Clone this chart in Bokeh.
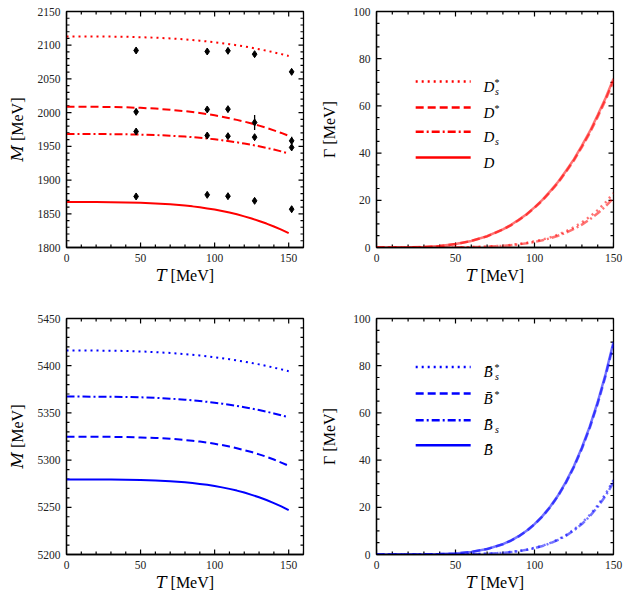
from bokeh.plotting import figure
from bokeh.layouts import column, row
from bokeh.models import Range1d, SingleIntervalTicker, LinearAxis, Label
from bokeh.embed import file_html
from bokeh.resources import INLINE

# ---------------------------------------------------------------------------
# Data: temperature grid (MeV) and thermal masses / widths of heavy mesons
# ---------------------------------------------------------------------------
T = [0, 10, 20, 30, 40, 50, 60, 70, 80, 85, 90, 95, 100, 105, 110, 115,
     120, 125, 130, 135, 140, 145, 150]

# charm sector masses M(T) [MeV]
M_Dss = [2113.0, 2113.0, 2112.9, 2112.8, 2112.5, 2111.9, 2111.1, 2110.1, 2108.6,
         2107.7, 2106.7, 2105.6, 2104.4, 2103.1, 2101.6, 2099.9, 2098.2, 2096.2,
         2094.1, 2091.9, 2089.4, 2086.8, 2084.0]
M_Dst = [2008.7, 2008.7, 2008.6, 2008.4, 2007.9, 2007.1, 2006.0, 2004.3, 2002.2,
         2000.9, 1999.4, 1997.8, 1996.0, 1994.0, 1991.7, 1989.3, 1986.7, 1983.8,
         1980.7, 1977.4, 1973.7, 1969.9, 1965.7]
M_Ds = [1968.3, 1968.3, 1968.3, 1968.1, 1967.9, 1967.4, 1966.8, 1965.8, 1964.5,
        1963.6, 1962.7, 1961.6, 1960.4, 1959.1, 1957.6, 1956.0, 1954.2, 1952.2,
        1950.1, 1947.7, 1945.2, 1942.5, 1939.5]
M_D = [1867.3, 1867.3, 1867.3, 1867.1, 1866.9, 1866.3, 1865.4, 1864.1, 1862.2,
       1861.0, 1859.6, 1858.0, 1856.2, 1854.1, 1851.8, 1849.2, 1846.2, 1843.0,
       1839.4, 1835.5, 1831.2, 1826.5, 1821.3]

# lattice QCD points for the charm sector
lat_T = [47, 95, 109, 127, 152]
lat_Dss = [2092.2, 2090.7, 2091.7, 2086.7, 2060.5]
lat_Dss_err = [3.0, 3.0, 3.0, 3.0, 4.0]
lat_Dst = [2001.2, 2004.7, 2005.2, 1985.4, 1958.2]
lat_Dst_err = [3.0, 3.0, 3.0, 11.0, 6.0]
lat_Ds = [1972.0, 1966.1, 1965.1, 1963.6, 1948.4]
lat_Ds_err = [3.0, 3.0, 2.5, 2.5, 4.0]
lat_D = [1875.7, 1878.1, 1876.1, 1869.2, 1856.8]
lat_D_err = [2.5, 2.5, 2.5, 3.0, 4.5]

# charm sector widths Gamma(T) [MeV]
G_D = [0.0, 0.005, 0.06, 0.24, 0.66, 1.46, 2.79, 4.79, 7.72, 9.52, 11.73, 14.13,
       17.02, 20.16, 23.88, 27.84, 32.53, 37.43, 43.19, 49.18, 56.13, 63.39, 71.5]
G_Dst = [0.0, 0.005, 0.06, 0.23, 0.65, 1.44, 2.75, 4.72, 7.61, 9.38, 11.56, 13.93,
         16.78, 19.87, 23.55, 27.45, 32.08, 36.91, 42.58, 48.49, 55.34, 62.51, 70.5]
G_Ds = [0.0, 0.0, 0.0, 0.004, 0.017, 0.056, 0.149, 0.344, 0.708, 0.98, 1.33, 1.78,
        2.35, 3.06, 3.93, 5.0, 6.3, 7.85, 9.7, 11.89, 14.47, 17.49, 21.0]
G_Dss = [0.0, 0.0, 0.0, 0.004, 0.018, 0.061, 0.163, 0.377, 0.775, 1.07, 1.45, 1.95,
         2.58, 3.35, 4.30, 5.48, 6.9, 8.6, 10.63, 13.02, 15.85, 19.15, 23.0]

# bottom sector masses M(T) [MeV]
M_Bss = [5416.1, 5416.1, 5416.0, 5415.9, 5415.6, 5415.1, 5414.4, 5413.5, 5412.3,
         5411.6, 5410.8, 5410.0, 5409.0, 5408.0, 5406.9, 5405.6, 5404.3, 5402.9,
         5401.4, 5399.7, 5398.0, 5396.1, 5394.1]
M_Bs = [5367.3, 5367.3, 5367.2, 5367.1, 5366.9, 5366.5, 5365.9, 5365.1, 5364.0,
        5363.3, 5362.6, 5361.7, 5360.8, 5359.8, 5358.6, 5357.4, 5356.0, 5354.6,
        5353.0, 5351.3, 5349.4, 5347.4, 5345.3]
M_Bst = [5324.7, 5324.7, 5324.7, 5324.6, 5324.4, 5324.0, 5323.5, 5322.6, 5321.3,
         5320.5, 5319.6, 5318.5, 5317.3, 5315.9, 5314.3, 5312.6, 5310.6, 5308.5,
         5306.1, 5303.5, 5300.6, 5297.4, 5294.0]
M_B = [5279.5, 5279.5, 5279.5, 5279.4, 5279.3, 5279.0, 5278.5, 5277.7, 5276.5,
       5275.7, 5274.8, 5273.8, 5272.5, 5271.1, 5269.5, 5267.7, 5265.6, 5263.2,
       5260.6, 5257.7, 5254.5, 5250.9, 5247.0]

# bottom sector widths Gamma(T) [MeV]
G_B = [0.0, 0.0, 0.005, 0.04, 0.16, 0.46, 1.11, 2.31, 4.39, 5.90, 7.77, 10.04,
       12.88, 16.25, 20.32, 25.14, 30.87, 37.52, 45.32, 54.27, 64.62, 76.48, 90.0]
G_Bst = [0.0, 0.0, 0.005, 0.04, 0.16, 0.46, 1.10, 2.29, 4.34, 5.83, 7.68, 9.93,
         12.74, 16.06, 20.1, 24.86, 30.5, 37.1, 44.8, 53.67, 63.9, 75.63, 89.0]
G_Bs = [0.0, 0.0, 0.0, 0.002, 0.011, 0.042, 0.125, 0.317, 0.70, 1.01, 1.42, 1.97,
        2.68, 3.59, 4.76, 6.19, 7.99, 10.21, 12.93, 16.2, 20.16, 24.89, 30.5]
G_Bss = [0.0, 0.0, 0.0, 0.002, 0.011, 0.043, 0.129, 0.33, 0.73, 1.04, 1.46, 2.03,
         2.77, 3.70, 4.91, 6.40, 8.25, 10.55, 13.36, 16.74, 20.82, 25.7, 31.5]

# legend key placement (T span of key lines, Gamma level of each row)
key_T = [24.8, 59.6]
label_T = 67.8
key_rows_D = [70.3, 59.3, 49.0, 38.1]
key_rows_B = [79.5, 68.2, 56.9, 46.3]

FONT = "Liberation Serif, Times New Roman, DejaVu Serif, serif"
TICK_COLOR = "#222222"
RED = "#ff0000"
BLUE = "#0000ff"

DOTTED = "2 4"
DASHED = "8 4"
DASHDOT = "8 3 2 3"

FRAME_W, FRAME_H = 237, 236
MAJOR_LEN, MINOR_LEN = 5, 3


def make_axis(ticker, title, title_standoff):
    ax = LinearAxis(ticker=ticker, axis_label=title)
    ax.axis_line_color = "black"
    ax.axis_line_width = 1.3
    ax.major_tick_in = 0
    ax.major_tick_out = 0
    ax.minor_tick_in = 0
    ax.minor_tick_out = 0
    ax.major_label_text_font = FONT
    ax.major_label_text_font_size = "11.5px"
    ax.major_label_text_color = TICK_COLOR
    ax.major_label_standoff = 6
    ax.axis_label_text_font = FONT
    ax.axis_label_text_font_size = "16px"
    ax.axis_label_text_font_style = "normal"
    ax.axis_label_text_color = "black"
    ax.axis_label_standoff = title_standoff
    return ax


def split_ticks(lo, hi, major, minor):
    n = int(round((hi - lo) / minor))
    vals = [lo + i * minor for i in range(n + 1)]
    majors = [v for v in vals if abs(v / major - round(v / major)) < 1e-9]
    minors = [v for v in vals if v not in majors]
    return majors, minors


def frame_ticks(p, x_end, y_lo, y_hi, y_step, y_minor_step):
    """Inward-pointing ticks on all four edges of the frame."""
    dx = x_end / FRAME_W            # data units per pixel, horizontal
    dy = (y_hi - y_lo) / FRAME_H    # data units per pixel, vertical
    xmaj, xmin = split_ticks(0, x_end, 50, 10)
    ymaj, ymin = split_ticks(y_lo, y_hi, y_step, y_minor_step)
    style = dict(line_color="black", line_width=1.2)
    for xs, ln in ((xmaj, MAJOR_LEN), (xmin, MINOR_LEN)):
        n = len(xs)
        p.segment(x0=xs, y0=[y_lo] * n, x1=xs, y1=[y_lo + ln * dy] * n, **style)
        p.segment(x0=xs, y0=[y_hi] * n, x1=xs, y1=[y_hi - ln * dy] * n, **style)
    for ys, ln in ((ymaj, MAJOR_LEN), (ymin, MINOR_LEN)):
        n = len(ys)
        p.segment(x0=[0] * n, y0=ys, x1=[ln * dx] * n, y1=ys, **style)
        p.segment(x0=[x_end] * n, y0=ys, x1=[x_end - ln * dx] * n, y1=ys, **style)


def make_panel(x_end, y_lo, y_hi, y_step, y_minor, y_title, y_standoff, borders):
    left, right, top, bottom = borders
    p = figure(frame_width=FRAME_W, frame_height=FRAME_H,
               x_range=Range1d(0, x_end), y_range=Range1d(y_lo, y_hi),
               x_axis_type=None, y_axis_type=None,
               min_border_left=left, min_border_right=right,
               min_border_top=top, min_border_bottom=bottom,
               output_backend="svg", toolbar_location=None)
    p.outline_line_color = "black"
    p.outline_line_width = 1.3
    p.outline_line_alpha = 1.0
    p.background_fill_color = "white"
    p.border_fill_color = "white"
    xt = SingleIntervalTicker(interval=50, num_minor_ticks=5)
    yt = SingleIntervalTicker(interval=y_step, num_minor_ticks=y_minor)
    p.add_layout(make_axis(xt, "\U0001D447 [MeV]", 2), "below")
    p.add_layout(make_axis(yt, y_title, y_standoff), "left")
    frame_ticks(p, x_end, y_lo, y_hi, y_step, y_step / y_minor)
    return p


def add_text(p, x, y, text, size="15px", italic=False, xo=0, yo=0):
    p.add_layout(Label(x=x, y=y, text=text, x_offset=xo, y_offset=yo,
                       text_font=FONT, text_font_size=size,
                       text_font_style="italic" if italic else "normal",
                       text_color="black", text_align="left",
                       text_baseline="alphabetic"))


def legend_row(p, y, dash, color, base, sup=None, sub=None):
    p.line(key_T, [y, y], line_color=color, line_width=2.5, line_dash=dash)
    add_text(p, label_T, y, base, italic=True, yo=-5)
    if sup:
        add_text(p, label_T, y, sup, size="10px", xo=11, yo=-1)
    if sub:
        add_text(p, label_T, y, sub, size="10px", italic=True, xo=11.5, yo=-9.5)


MASS_TITLE = "\U0001D440 [MeV]"
WIDTH_TITLE = "\u0393 [MeV]"

# --- top left: charm masses -------------------------------------------------
p1 = make_panel(160, 1800, 2150, 50, 5, MASS_TITLE, 9, (66, 7, 11, 48))
p1.line(T, M_Dss, line_color=RED, line_width=2, line_dash=DOTTED)
p1.line(T, M_Dst, line_color=RED, line_width=2, line_dash=DASHED)
p1.line(T, M_Ds, line_color=RED, line_width=2, line_dash=DASHDOT)
p1.line(T, M_D, line_color=RED, line_width=2)
for vals, errs in [(lat_Dss, lat_Dss_err), (lat_Dst, lat_Dst_err),
                   (lat_Ds, lat_Ds_err), (lat_D, lat_D_err)]:
    lo = [v - e for v, e in zip(vals, errs)]
    hi = [v + e for v, e in zip(vals, errs)]
    p1.segment(x0=lat_T, y0=lo, x1=lat_T, y1=hi, line_color="black", line_width=1.3)
    p1.scatter(lat_T, vals, marker="diamond", size=7, color="black")

# --- top right: charm widths ------------------------------------------------
p2 = make_panel(150, 0, 100, 20, 4, WIDTH_TITLE, 12, (66, 12, 11, 48))
p2.line(T, G_D, line_color=RED, line_alpha=0.55, line_width=2.5)
p2.line(T, G_Dst, line_color=RED, line_alpha=0.55, line_width=2.5, line_dash=DASHED)
p2.line(T, G_Ds, line_color=RED, line_alpha=0.55, line_width=2.5, line_dash=DASHDOT)
p2.line(T, G_Dss, line_color=RED, line_alpha=0.55, line_width=2.5, line_dash=DOTTED)
legend_row(p2, key_rows_D[0], DOTTED, RED, "D", sup="*", sub="s")
legend_row(p2, key_rows_D[1], DASHED, RED, "D", sup="*")
legend_row(p2, key_rows_D[2], DASHDOT, RED, "D", sub="s")
legend_row(p2, key_rows_D[3], "solid", RED, "D")

# --- bottom left: bottom-meson masses ---------------------------------------
p3 = make_panel(160, 5200, 5450, 50, 5, MASS_TITLE, 9, (66, 7, 23, 45))
p3.line(T, M_Bss, line_color=BLUE, line_width=2, line_dash=DOTTED)
p3.line(T, M_Bs, line_color=BLUE, line_width=2, line_dash=DASHDOT)
p3.line(T, M_Bst, line_color=BLUE, line_width=2, line_dash=DASHED)
p3.line(T, M_B, line_color=BLUE, line_width=2)

# --- bottom right: bottom-meson widths --------------------------------------
p4 = make_panel(150, 0, 100, 20, 4, WIDTH_TITLE, 12, (66, 12, 23, 45))
p4.line(T, G_B, line_color=BLUE, line_alpha=0.55, line_width=2.5)
p4.line(T, G_Bst, line_color=BLUE, line_alpha=0.55, line_width=2.5, line_dash=DASHED)
p4.line(T, G_Bs, line_color=BLUE, line_alpha=0.55, line_width=2.5, line_dash=DASHDOT)
p4.line(T, G_Bss, line_color=BLUE, line_alpha=0.55, line_width=2.5, line_dash=DOTTED)
legend_row(p4, key_rows_B[0], DOTTED, BLUE, "B\u0304", sup="*", sub="s")
legend_row(p4, key_rows_B[1], DASHED, BLUE, "B\u0304", sup="*")
legend_row(p4, key_rows_B[2], DASHDOT, BLUE, "B\u0304", sub="s")
legend_row(p4, key_rows_B[3], "solid", BLUE, "B\u0304")

layout = column(row(p1, p2), row(p3, p4))
open("out.html", "w").write(file_html(layout, INLINE))
